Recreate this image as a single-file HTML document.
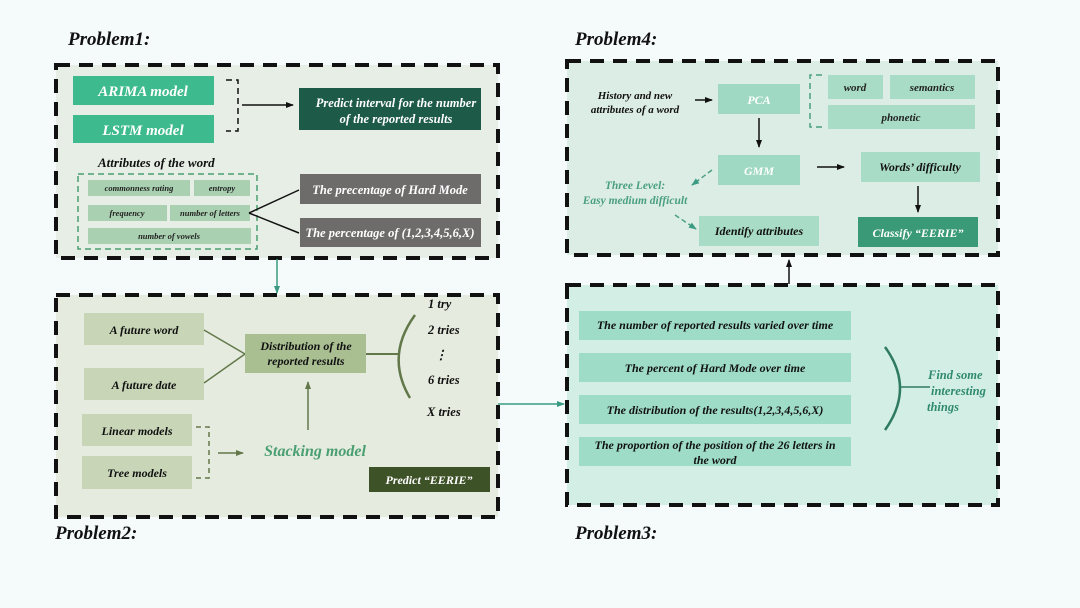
<!DOCTYPE html>
<html><head><meta charset="utf-8"><style>
html,body{margin:0;padding:0;background:#f5fafa;}
svg{display:block;}
text{font-family:"Liberation Serif",serif;font-style:italic;font-weight:bold;}
</style></head><body>
<svg width="1080" height="608" viewBox="0 0 1080 608" xmlns="http://www.w3.org/2000/svg">
<defs>
<marker id="ab" markerWidth="8" markerHeight="8" refX="7" refY="4" orient="auto" markerUnits="userSpaceOnUse"><path d="M0,1 L8,4 L0,7 z" fill="#111"/></marker>
<marker id="at" markerWidth="8" markerHeight="8" refX="7" refY="4" orient="auto" markerUnits="userSpaceOnUse"><path d="M0,1 L8,4 L0,7 z" fill="#3a9a82"/></marker>
<marker id="ag" markerWidth="8" markerHeight="8" refX="7" refY="4" orient="auto" markerUnits="userSpaceOnUse"><path d="M0,1 L8,4 L0,7 z" fill="#62784a"/></marker>
</defs>
<rect width="1080" height="608" fill="#f5fafa"/>

<!-- titles -->
<text x="68" y="45" font-size="19" fill="#111">Problem1:</text>
<text x="575" y="45" font-size="19" fill="#111">Problem4:</text>
<text x="55" y="539" font-size="19" fill="#111">Problem2:</text>
<text x="575" y="539" font-size="19" fill="#111">Problem3:</text>

<!-- panels -->
<rect x="56" y="65" width="442" height="193" fill="#e6eee5" stroke="#111" stroke-width="4" stroke-dasharray="14,9"/>
<rect x="567" y="61" width="431" height="194" fill="#dcede5" stroke="#111" stroke-width="4" stroke-dasharray="14,9"/>
<rect x="56" y="295" width="442" height="222" fill="#e6ebdf" stroke="#111" stroke-width="4" stroke-dasharray="14,9"/>
<rect x="567" y="285" width="431" height="220" fill="#d3eee5" stroke="#111" stroke-width="4" stroke-dasharray="14,9"/>

<!-- Panel 1 -->
<rect x="73" y="76" width="141" height="29" fill="#3dbb8f"/>
<text x="143" y="96" font-size="15" fill="#fff" text-anchor="middle">ARIMA model</text>
<rect x="73" y="115" width="141" height="28" fill="#3dbb8f"/>
<text x="143" y="135" font-size="15" fill="#fff" text-anchor="middle">LSTM model</text>
<path d="M226,80 H238 V131 H226" fill="none" stroke="#111" stroke-width="1.5" stroke-dasharray="6,4"/>
<line x1="242" y1="105" x2="293" y2="105" stroke="#111" stroke-width="1.5" marker-end="url(#ab)"/>
<rect x="299" y="88" width="182" height="42" fill="#1d5a48"/>
<text x="396" y="107" font-size="12.5" fill="#fff" text-anchor="middle">Predict interval for the number</text>
<text x="396" y="123" font-size="12.5" fill="#fff" text-anchor="middle">of the reported results</text>
<text x="98" y="167" font-size="13" fill="#111">Attributes of the word</text>
<rect x="78" y="174" width="179" height="75" fill="none" stroke="#4a9f72" stroke-width="1.5" stroke-dasharray="6,4"/>
<rect x="88" y="180" width="102" height="16" fill="#a9d1b1"/>
<text x="139" y="191" font-size="8.5" fill="#222" text-anchor="middle">commonness rating</text>
<rect x="194" y="180" width="56" height="16" fill="#a9d1b1"/>
<text x="222" y="191" font-size="8.5" fill="#222" text-anchor="middle">entropy</text>
<rect x="88" y="205" width="79" height="16" fill="#a9d1b1"/>
<text x="127" y="216" font-size="8.5" fill="#222" text-anchor="middle">frequency</text>
<rect x="170" y="205" width="80" height="16" fill="#a9d1b1"/>
<text x="210" y="216" font-size="8.5" fill="#222" text-anchor="middle">number of letters</text>
<rect x="88" y="228" width="163" height="16" fill="#a9d1b1"/>
<text x="169" y="239" font-size="8.5" fill="#222" text-anchor="middle">number of vowels</text>
<line x1="249" y1="213" x2="299" y2="190" stroke="#111" stroke-width="1.5"/>
<line x1="249" y1="213" x2="299" y2="233" stroke="#111" stroke-width="1.5"/>
<rect x="300" y="174" width="181" height="30" fill="#6e6b6b"/>
<text x="390" y="194" font-size="12.5" fill="#fff" text-anchor="middle">The precentage of  Hard Mode</text>
<rect x="300" y="218" width="181" height="29" fill="#6e6b6b"/>
<text x="390" y="237" font-size="12.5" fill="#fff" text-anchor="middle">The percentage of (1,2,3,4,5,6,X)</text>

<!-- connector 1->2 -->
<line x1="277" y1="259" x2="277" y2="293" stroke="#3a9a82" stroke-width="1.5" marker-end="url(#at)"/>

<!-- Panel 4 -->
<text x="635" y="99" font-size="11" fill="#111" text-anchor="middle">History and new</text>
<text x="635" y="113" font-size="11" fill="#111" text-anchor="middle">attributes of a word</text>
<line x1="695" y1="100" x2="712" y2="100" stroke="#111" stroke-width="1.5" marker-end="url(#ab)"/>
<rect x="718" y="84" width="82" height="30" fill="#9fd8c3"/>
<text x="759" y="104" font-size="12" fill="#fff" text-anchor="middle">PCA</text>
<path d="M822,75 H810 V127 H822" fill="none" stroke="#4a9f82" stroke-width="1.5" stroke-dasharray="6,4"/>
<rect x="828" y="75" width="55" height="24" fill="#a8dcc6"/>
<text x="855" y="91" font-size="11" fill="#222" text-anchor="middle">word</text>
<rect x="890" y="75" width="85" height="24" fill="#a8dcc6"/>
<text x="932" y="91" font-size="11" fill="#222" text-anchor="middle">semantics</text>
<rect x="828" y="105" width="147" height="24" fill="#a8dcc6"/>
<text x="901" y="121" font-size="11" fill="#222" text-anchor="middle">phonetic</text>
<line x1="759" y1="118" x2="759" y2="147" stroke="#111" stroke-width="1.5" marker-end="url(#ab)"/>
<rect x="718" y="155" width="82" height="30" fill="#9fd8c3"/>
<text x="759" y="175" font-size="12" fill="#fff" text-anchor="middle">GMM</text>
<line x1="817" y1="167" x2="844" y2="167" stroke="#111" stroke-width="1.5" marker-end="url(#ab)"/>
<rect x="861" y="152" width="119" height="30" fill="#a8dcc6"/>
<text x="920" y="171" font-size="12" fill="#111" text-anchor="middle">Words’ difficulty</text>
<line x1="918" y1="186" x2="918" y2="212" stroke="#111" stroke-width="1.5" marker-end="url(#ab)"/>
<rect x="858" y="217" width="120" height="30" fill="#3a9a78"/>
<text x="918" y="237" font-size="12" fill="#fff" text-anchor="middle">Classify “EERIE”</text>
<line x1="712" y1="170" x2="692" y2="185" stroke="#4a9f82" stroke-width="1.5" stroke-dasharray="5,3" marker-end="url(#at)"/>
<text x="635" y="189" font-size="11.5" fill="#4a9f82" text-anchor="middle">Three Level:</text>
<text x="635" y="204" font-size="11.5" fill="#4a9f82" text-anchor="middle">Easy medium difficult</text>
<line x1="675" y1="215" x2="696" y2="229" stroke="#4a9f82" stroke-width="1.5" stroke-dasharray="5,3" marker-end="url(#at)"/>
<rect x="699" y="216" width="120" height="30" fill="#a8dcc6"/>
<text x="759" y="235" font-size="12" fill="#111" text-anchor="middle">Identify attributes</text>

<!-- connector 3->4 -->
<line x1="789" y1="284" x2="789" y2="260" stroke="#111" stroke-width="1.5" marker-end="url(#ab)"/>

<!-- Panel 2 -->
<rect x="84" y="313" width="120" height="32" fill="#c8d6b7"/>
<text x="144" y="334" font-size="12" fill="#111" text-anchor="middle">A future word</text>
<rect x="84" y="368" width="120" height="32" fill="#c8d6b7"/>
<text x="144" y="389" font-size="12" fill="#111" text-anchor="middle">A future date</text>
<line x1="204" y1="330" x2="245" y2="354" stroke="#62784a" stroke-width="1.5"/>
<line x1="204" y1="383" x2="245" y2="354" stroke="#62784a" stroke-width="1.5"/>
<rect x="245" y="334" width="121" height="39" fill="#a9bf92"/>
<text x="306" y="350" font-size="12" fill="#111" text-anchor="middle">Distribution of the</text>
<text x="306" y="365" font-size="12" fill="#111" text-anchor="middle">reported results</text>
<line x1="366" y1="354" x2="399" y2="354" stroke="#62784a" stroke-width="2"/>
<path d="M415,315 Q385,356 410,398" fill="none" stroke="#62784a" stroke-width="2.5"/>
<text x="428" y="308" font-size="12.5" fill="#111">1 try</text>
<text x="428" y="334" font-size="12.5" fill="#111">2 tries</text>
<text x="441" y="359" font-size="12.5" fill="#111" text-anchor="middle">⋮</text>
<text x="428" y="384" font-size="12.5" fill="#111">6 tries</text>
<text x="427" y="416" font-size="12.5" fill="#111">X tries</text>
<rect x="82" y="414" width="110" height="32" fill="#c8d6b7"/>
<text x="137" y="435" font-size="12" fill="#111" text-anchor="middle">Linear models</text>
<rect x="82" y="456" width="110" height="33" fill="#c8d6b7"/>
<text x="137" y="477" font-size="12" fill="#111" text-anchor="middle">Tree models</text>
<path d="M196,427 H209 V478 H196" fill="none" stroke="#62784a" stroke-width="1.5" stroke-dasharray="5,4"/>
<line x1="218" y1="453" x2="243" y2="453" stroke="#62784a" stroke-width="1.5" marker-end="url(#ag)"/>
<text x="315" y="456" font-size="16" fill="#4a9f72" text-anchor="middle">Stacking model</text>
<line x1="308" y1="430" x2="308" y2="382" stroke="#62784a" stroke-width="1.5" marker-end="url(#ag)"/>
<rect x="369" y="467" width="121" height="25" fill="#3e5227"/>
<text x="429" y="484" font-size="12" fill="#fff" text-anchor="middle">Predict “EERIE”</text>

<!-- connector 2->3 -->
<line x1="498" y1="404" x2="564" y2="404" stroke="#3a9a82" stroke-width="1.5" marker-end="url(#at)"/>

<!-- Panel 3 -->
<rect x="579" y="311" width="272" height="29" fill="#9fdcc8"/>
<text x="715" y="329" font-size="12" fill="#111" text-anchor="middle">The number of reported results varied over time</text>
<rect x="579" y="353" width="272" height="29" fill="#9fdcc8"/>
<text x="715" y="372" font-size="12" fill="#111" text-anchor="middle">The percent of Hard Mode over time</text>
<rect x="579" y="395" width="272" height="29" fill="#9fdcc8"/>
<text x="715" y="414" font-size="12" fill="#111" text-anchor="middle">The distribution of the results(1,2,3,4,5,6,X)</text>
<rect x="579" y="437" width="272" height="29" fill="#9fdcc8"/>
<text x="715" y="449" font-size="12" fill="#111" text-anchor="middle">The proportion of the position of the 26 letters in</text>
<text x="715" y="464" font-size="12" fill="#111" text-anchor="middle">the word</text>
<path d="M885,347 Q915,388 885,430" fill="none" stroke="#2f7a62" stroke-width="2.5"/>
<line x1="899" y1="387" x2="930" y2="387" stroke="#2f7a62" stroke-width="1.5"/>
<text x="928" y="379" font-size="12.5" fill="#2f8a6e">Find some</text>
<text x="931" y="395" font-size="12.5" fill="#2f8a6e">interesting</text>
<text x="927" y="411" font-size="12.5" fill="#2f8a6e">things</text>
</svg>
</body></html>
